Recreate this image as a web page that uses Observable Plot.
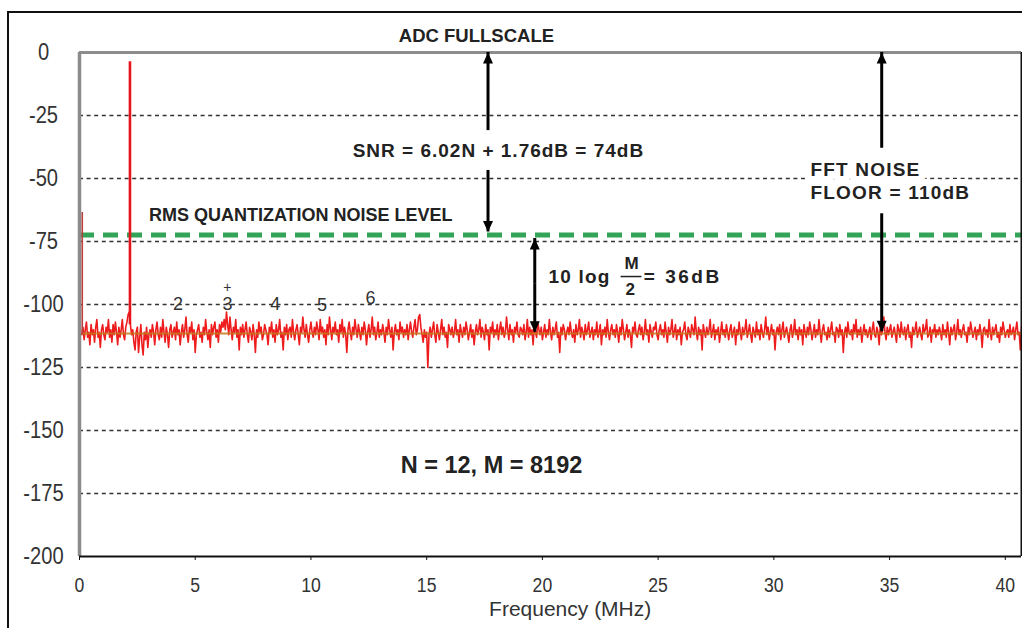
<!DOCTYPE html>
<html><head><meta charset="utf-8">
<script src="https://cdn.jsdelivr.net/npm/d3@7"></script>
<script src="https://cdn.jsdelivr.net/npm/@observablehq/plot@0.6"></script>
<style>
html,body{margin:0;padding:0;background:#fff;overflow:hidden;}
#wrap{position:relative;width:1022px;height:628px;overflow:hidden;}
#frame{position:absolute;left:7px;top:11px;width:1100px;height:700px;border:2px solid #111;pointer-events:none;}
</style></head>
<body><div id="wrap"><div id="chart"></div><div id="frame"></div></div>
<script>
// ---- data ----
const xTicks = [0, 5, 10, 15, 20, 25, 30, 35, 40];
const yTicks = [0, -25, -50, -75, -100, -125, -150, -175, -200];
const gridLevels = [-25, -50, -75, -100, -125, -150, -175];
const xMaxMHz = 40.7;

const noiseStartMHz = 0.1;
const noiseStepMHz = 0.05;
const noiseDb = [
-112,-109,-114,-110,-107,-113,-111,-116,-108,-112,-110,-115,-109,-106,-113,-111,-117,-110,-108,-112,
-114,-109,-111,-106,-113,-110,-115,-108,-112,-107,-111,-116,-109,-113,-110,-106,-112,-114,-109,-107,
-104,-103,-108,-112,-110,-115,-118,-111,-109,-119,-113,-108,-116,-120,-111,-114,-109,-117,-112,-110,
-113,-108,-111,-116,-110,-107,-112,-114,-109,-113,-106,-111,-115,-109,-112,-117,-110,-108,-113,-111,
-109,-114,-107,-112,-110,-116,-111,-108,-113,-110,-105,-112,-115,-109,-111,-107,-114,-110,-119,-112,
-110,-108,-113,-111,-115,-109,-112,-106,-111,-114,-110,-117,-108,-112,-109,-107,-113,-110,-115,-108,
-111,-107,-109,-106,-110,-103,-108,-112,-105,-110,-114,-109,-111,-106,-113,-110,-118,-109,-112,-108,
-113,-110,-107,-112,-115,-109,-111,-114,-108,-112,-119,-110,-113,-107,-111,-109,-114,-112,-108,-110,
-112,-116,-109,-111,-107,-113,-110,-115,-108,-112,-110,-106,-113,-111,-118,-109,-112,-108,-114,-110,
-109,-113,-106,-111,-114,-110,-108,-112,-116,-109,-111,-105,-110,-113,-108,-112,-115,-110,-107,-111,
-113,-109,-112,-107,-110,-114,-106,-111,-109,-113,-110,-116,-108,-112,-105,-110,-114,-109,-111,-107,
-112,-110,-115,-108,-111,-106,-113,-109,-112,-119,-110,-107,-111,-114,-109,-112,-106,-110,-113,-108,
-111,-114,-109,-112,-107,-110,-116,-111,-108,-113,-110,-105,-112,-109,-114,-111,-107,-113,-110,-112,
-108,-111,-115,-109,-112,-106,-110,-113,-109,-118,-111,-108,-112,-110,-114,-107,-111,-109,-113,-110,
-112,-108,-114,-110,-107,-111,-113,-109,-106,-112,-110,-105,-104,-109,-112,-115,-110,-113,-111,-125,
-112,-109,-113,-110,-107,-112,-115,-108,-111,-114,-110,-106,-112,-109,-113,-111,-117,-108,-110,-112,
-109,-113,-111,-106,-112,-110,-115,-108,-111,-113,-109,-112,-107,-110,-114,-111,-108,-113,-110,-116,
-111,-108,-112,-110,-106,-113,-109,-111,-114,-108,-112,-110,-118,-109,-111,-107,-113,-110,-112,-108,
-114,-110,-107,-112,-109,-113,-111,-105,-110,-114,-108,-112,-110,-115,-109,-111,-107,-112,-113,-109,
-110,-112,-108,-114,-111,-106,-113,-109,-112,-110,-116,-108,-111,-113,-107,-110,-112,-109,-114,-111,
-108,-113,-110,-112,-106,-111,-114,-109,-112,-110,-107,-113,-111,-119,-109,-112,-108,-110,-114,-111,
-109,-112,-107,-111,-113,-110,-115,-108,-112,-110,-106,-113,-109,-111,-114,-108,-112,-110,-107,-113,
-111,-109,-114,-110,-112,-107,-113,-111,-108,-116,-110,-112,-109,-113,-106,-111,-114,-110,-108,-112,
-110,-113,-108,-111,-115,-109,-112,-106,-110,-114,-111,-108,-113,-110,-112,-117,-109,-111,-107,-112,
-113,-110,-108,-112,-109,-114,-111,-106,-112,-110,-115,-108,-111,-113,-109,-110,-107,-112,-114,-110,
-108,-112,-110,-113,-107,-111,-115,-109,-112,-110,-106,-113,-111,-108,-114,-110,-112,-109,-116,-111,
-110,-107,-112,-114,-109,-111,-113,-108,-110,-112,-105,-111,-114,-109,-112,-110,-118,-108,-111,-113,
-109,-112,-110,-106,-113,-111,-108,-114,-110,-112,-109,-115,-111,-107,-112,-110,-113,-108,-111,-114,
-110,-108,-113,-111,-109,-116,-110,-112,-107,-111,-114,-109,-112,-110,-106,-113,-111,-108,-112,-115,
-109,-111,-113,-107,-112,-110,-114,-108,-111,-113,-110,-105,-112,-109,-114,-111,-108,-112,-110,-118,
-111,-109,-112,-108,-114,-110,-107,-113,-111,-109,-112,-115,-110,-108,-113,-111,-106,-112,-110,-114,
-109,-112,-110,-116,-108,-111,-113,-109,-112,-107,-110,-114,-111,-108,-113,-110,-112,-106,-111,-115,
-110,-108,-112,-111,-114,-109,-113,-110,-107,-112,-111,-115,-109,-110,-113,-108,-112,-110,-119,-111,
-109,-113,-107,-111,-112,-110,-114,-108,-111,-106,-113,-110,-112,-109,-115,-111,-108,-112,-110,-113,
-111,-109,-114,-110,-107,-112,-113,-109,-111,-116,-108,-112,-110,-105,-111,-114,-109,-112,-110,-108,
-113,-111,-109,-112,-115,-108,-110,-113,-107,-111,-112,-109,-114,-110,-108,-113,-111,-117,-109,-112,
-110,-107,-113,-111,-109,-112,-114,-108,-111,-110,-106,-113,-112,-109,-115,-110,-111,-108,-113,-110,
-112,-109,-111,-114,-108,-112,-110,-113,-107,-111,-116,-109,-112,-110,-108,-114,-111,-106,-112,-110,
-113,-110,-108,-112,-111,-115,-109,-112,-107,-110,-113,-111,-109,-114,-110,-112,-108,-111,-117,-110,
-109,-112,-110,-113,-106,-111,-114,-109,-112,-110,-108,-113,-111,-115,-109,-112,-107,-110,-113,-111,
-110,-113,-108,-112,-111,-109,-114,-110,-107,-112,-111,-118,-109
];

// DC leak and fundamental tone
const toneFreq = [0.12, 2.18];
const toneTopDb = [-63.5, -3.7];
const toneBaseDb = [-112, -108];

const quantNoiseDb = -72.4;   // RMS quantization noise level (green dashed)
const fftFloorDb = -111.5;    // average FFT noise floor

// harmonic markers
const harmonicLabels = ["2", "3", "4", "5", "6"];
const harmonicFreq = [4.26, 6.39, 8.46, 10.48, 12.57];
const harmonicDb = [-99.8, -99.8, -99.8, -100.4, -97.4];
const markFreq = [6.39];
const markDb = [-93.2];

// dimension arrows: shaft from -> to (head at "to")
const arrowFreq = [17.65, 17.65, 34.66, 34.66, 19.67, 19.67];
const arrowFromDb = [-31, -46.8, -38, -64, -92, -92];
const arrowToDb = [0, -71.2, 0, -110.8, -73.8, -111];

// annotations
const centerNotes = ["ADC FULLSCALE", "SNR = 6.02N + 1.76dB = 74dB", "N = 12, M = 8192"];
const centerNoteFreq = [17.15, 18.1, 17.8];
const centerNoteDb = [6.7, -38.9, -163.9];
const rmsNote = ["RMS QUANTIZATION NOISE LEVEL"];
const rmsNoteFreq = [3.0];
const rmsNoteDb = [-64.7];
const floorNotes = ["FFT NOISE", "FLOOR = 110dB"];
const floorNoteFreq = [31.58, 31.58];
const floorNoteDb = [-46.6, -55.8];
const logNotes = ["10 log", "= 36dB"];
const logNoteFreq = [20.26, 24.38];
const logNoteDb = [-89.0, -89.0];
const fracParts = ["M", "2"];
const fracFreq = [23.85, 23.8];
const fracDb = [-83.8, -94.2];
const fracBarFreq = [23.4, 24.3];
const fracBarDb = -88.9;
const xLabel = ["Frequency (MHz)"];
const xLabelFreq = [21.2];

// ---- chart ----
const noise = noiseDb.map((v, i) => ({f: noiseStartMHz + i * noiseStepMHz, db: v}));
const tones = toneFreq.map((f, i) => ({f, top: toneTopDb[i], base: toneBaseDb[i], i}));
const arrows = arrowFreq.map((f, i) => ({f, from: arrowFromDb[i], to: arrowToDb[i]}));
const triUp = {draw(ctx) { ctx.moveTo(0, 0); ctx.lineTo(5, 11); ctx.lineTo(-5, 11); ctx.closePath(); }};
const triDown = {draw(ctx) { ctx.moveTo(0, 0); ctx.lineTo(5, -11); ctx.lineTo(-5, -11); ctx.closePath(); }};

const sans = "'Liberation Sans',Arial,sans-serif";
const ink = "#222";

const plot = Plot.plot({
  width: 1022, height: 628,
  marginLeft: 79, marginRight: 1, marginTop: 52, marginBottom: 72,
  style: {fontFamily: sans, background: "transparent", overflow: "visible"},
  x: {domain: [0, xMaxMHz]},
  y: {domain: [-200, 0]},
  marks: [
    Plot.ruleY(gridLevels, {stroke: "#333", strokeWidth: 1.5, strokeDasharray: "4,3.6"}),
    Plot.ruleY([quantNoiseDb], {stroke: "#33a457", strokeWidth: 5, strokeDasharray: "15,9"}),
    Plot.line(noise, {x: "f", y: "db", stroke: "#ee1c1c", strokeWidth: 1.6, clip: true}),
    Plot.ruleY([fftFloorDb], {x1: noiseStartMHz, x2: xMaxMHz, stroke: "#c4781c", strokeWidth: 2.2, strokeOpacity: 0.85}),
    Plot.ruleX(tones.slice(1), {x: "f", y1: "base", y2: "top", stroke: "#e8141c", strokeWidth: 2.6}),
    // plot borders
    Plot.ruleY([0], {stroke: "#8c8c8c", strokeWidth: 3}),
    Plot.ruleX([0], {stroke: "#8c8c8c", strokeWidth: 3.5}),
    Plot.ruleY([-200], {stroke: "#111", strokeWidth: 2}),
    Plot.ruleX([xMaxMHz], {stroke: "#111", strokeWidth: 2}),
    Plot.ruleX(tones.slice(0, 1), {x: "f", y1: "base", y2: "top", stroke: "#b84040", strokeWidth: 1.6}),
    // arrows
    Plot.ruleX(arrows, {x: "f", y1: "from", y2: "to", stroke: "#000", strokeWidth: 3}),
    Plot.dot(arrows.filter(d => d.to > d.from), {x: "f", y: "to", symbol: triUp, fill: "#000", stroke: "none", r: 5}),
    Plot.dot(arrows.filter(d => d.to < d.from), {x: "f", y: "to", symbol: triDown, fill: "#000", stroke: "none", r: 5}),
    // harmonic labels
    Plot.text(harmonicLabels, {x: harmonicFreq, y: harmonicDb, fontSize: 18, fill: "#333"}),
    Plot.text(["+"], {x: markFreq, y: markDb, fontSize: 14, fill: "#333"}),
    // annotations
    Plot.text(centerNotes, {x: centerNoteFreq, y: centerNoteDb, fontWeight: "bold",
      fontSize: (d, i) => [18.5, 19, 23.5][i], fill: ink}),
    Plot.text(rmsNote, {x: rmsNoteFreq, y: rmsNoteDb, textAnchor: "start", fontWeight: "bold", fontSize: 18, fill: ink}),
    Plot.text(floorNotes, {x: floorNoteFreq, y: floorNoteDb, textAnchor: "start", fontWeight: "bold",
      fontSize: 19, fill: ink, stroke: "white", strokeWidth: 14}),
    Plot.text(logNotes, {x: logNoteFreq, y: logNoteDb, textAnchor: "start", fontWeight: "bold", fontSize: 19, fill: ink}),
    Plot.text(fracParts, {x: fracFreq, y: fracDb, fontWeight: "bold", fontSize: 17, fill: ink}),
    Plot.ruleY([fracBarDb], {x1: fracBarFreq[0], x2: fracBarFreq[1], stroke: ink, strokeWidth: 1.5}),
    // axes
    Plot.axisY({ticks: yTicks, tickFormat: d => String(d), tickSize: 0, tickPadding: 36, textAnchor: "middle", fontSize: 24, fill: "#333", label: null}),
    Plot.axisX({ticks: xTicks, tickFormat: d => String(d), tickSize: 4, tickPadding: 17, fontSize: 21, fill: "#333", stroke: "#111", label: null}),
    Plot.text(xLabel, {x: xLabelFreq, frameAnchor: "bottom", dy: 59, fontSize: 21, fill: "#333"})
  ]
});
document.getElementById("chart").appendChild(plot);

// letter spacing on the spaced annotation texts
const spaced = {"SNR = 6.02N + 1.76dB = 74dB": 1, "FFT NOISE": 1.2, "FLOOR = 110dB": 1.2, "10 log": 1.2, "= 36dB": 2.5};
// narrow (Arial-Narrow-like) tick labels
const tickSet = new Set([...yTicks, ...xTicks].map(String));
plot.querySelectorAll("text").forEach(t => {
  const s = t.textContent;
  if (spaced[s] != null) t.setAttribute("letter-spacing", spaced[s]);
  const inAxis = t.closest('g[aria-label*="tick label"]');
  if (inAxis && tickSet.has(s)) {
    const x = parseFloat(t.getAttribute("x") || 0);
    const tr = t.getAttribute("transform") || "";
    t.setAttribute("transform", `${tr} translate(${x},0) scale(0.84,1) translate(${-x},0)`);
  }
});
</script>
</body></html>
